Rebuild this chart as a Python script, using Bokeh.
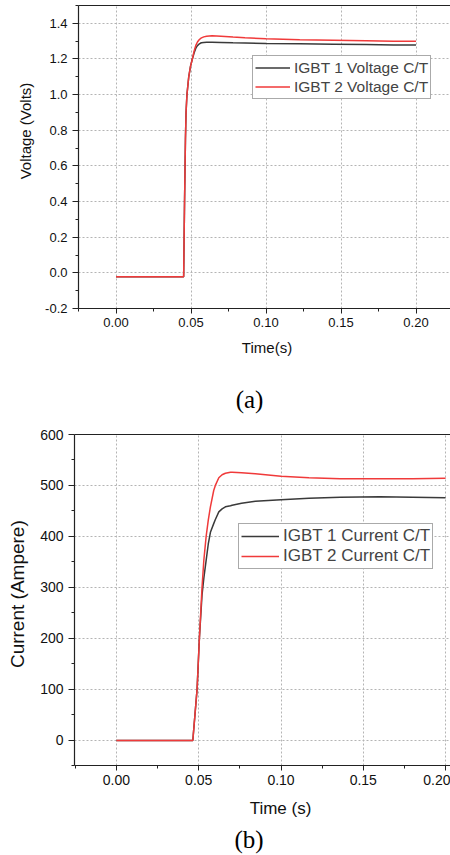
from math import pi
from bokeh.plotting import figure
from bokeh.models import LinearAxis, FixedTicker, NumeralTickFormatter
from bokeh.core.properties import value
from bokeh.layouts import column, row
from bokeh.embed import file_html
from bokeh.resources import INLINE

# ---------------- data (a): voltage ----------------
t_v = [0.0, 0.0451, 0.0457, 0.0463, 0.0467, 0.0473, 0.0485, 0.0497, 0.0509, 0.0521,
       0.0533, 0.0543, 0.0553, 0.0562, 0.057, 0.0585, 0.0604, 0.064, 0.07, 0.078,
       0.086, 0.1, 0.1225, 0.145, 0.1667, 0.185, 0.2]
v_igbt1 = [-0.022, -0.022, 0.4, 0.75, 0.9, 1.0, 1.1, 1.16, 1.2, 1.235,
           1.262, 1.275, 1.283, 1.288, 1.291, 1.293, 1.294, 1.294, 1.293, 1.291,
           1.290, 1.287, 1.285, 1.283, 1.281, 1.279, 1.278]
v_igbt2 = [-0.022, -0.022, 0.4, 0.75, 0.9, 1.0, 1.1, 1.16, 1.2, 1.245,
           1.278, 1.295, 1.306, 1.314, 1.318, 1.324, 1.328, 1.330, 1.328, 1.323,
           1.319, 1.313, 1.308, 1.305, 1.302, 1.300, 1.299]

# ---------------- data (b): current ----------------
t_i = [0.0, 0.0464, 0.049, 0.0504, 0.052, 0.0531, 0.0545, 0.0558, 0.0571, 0.0591,
       0.0601, 0.0622, 0.0642, 0.0662, 0.0693, 0.0703, 0.076, 0.0844, 0.1, 0.117,
       0.136, 0.16, 0.18, 0.2]
i_igbt1 = [-1, -1, 100, 200, 285, 318, 353, 385, 408, 425,
           433, 448, 454, 458, 460, 461, 465, 469, 472, 475,
           477, 478, 477, 476]
i_igbt2 = [-1, -1, 100, 200, 300, 353, 400, 432, 458, 490,
           500, 515, 521, 524, 526, 526, 525, 523, 518, 515,
           513, 513, 513, 514]

x_ticks = [0.0, 0.05, 0.10, 0.15, 0.20]
x_minor = [-0.025, 0.025, 0.075, 0.125, 0.175, 0.225]
v_ticks = [-0.2, 0.0, 0.2, 0.4, 0.6, 0.8, 1.0, 1.2, 1.4]
v_minor = [-0.1, 0.1, 0.3, 0.5, 0.7, 0.9, 1.1, 1.3, 1.5]
i_ticks = [0, 100, 200, 300, 400, 500, 600]
i_minor = [-50, 50, 150, 250, 350, 450, 550]

BLACK = "#3a3a3a"
RED = "#f03a3a"
SANS = "Liberation Sans"
SERIF = "Liberation Serif"


def panel(width, height, xr, yr, border_top, yticks, yminor, yfmt, tick_fs):
    p = figure(width=width, height=height, x_range=xr, y_range=yr,
               output_backend="svg", toolbar_location=None,
               min_border_left=38, min_border_right=0,
               min_border_top=border_top, min_border_bottom=30)
    p.outline_line_color = None
    p.background_fill_color = "white"
    p.border_fill_color = "white"
    p.xaxis.ticker = FixedTicker(ticks=x_ticks, minor_ticks=x_minor)
    p.yaxis.ticker = FixedTicker(ticks=yticks, minor_ticks=yminor)
    p.xaxis.formatter = NumeralTickFormatter(format="0.00")
    p.yaxis.formatter = NumeralTickFormatter(format=yfmt)
    for ax in (p.xaxis[0], p.yaxis[0]):
        ax.axis_line_color = "#222222"
        ax.axis_line_width = 1.2
        ax.major_tick_line_color = "#222222"
        ax.minor_tick_line_color = "#222222"
        ax.major_tick_in = 0
        ax.minor_tick_in = 0
        ax.major_label_text_font = SANS
        ax.major_label_text_font_size = tick_fs
        ax.major_label_text_color = "#111111"
    p.xaxis.major_tick_out = 5
    p.xaxis.minor_tick_out = 3
    p.xaxis.major_label_standoff = 4
    p.yaxis.major_tick_out = 6
    p.yaxis.minor_tick_out = 3
    p.yaxis.major_label_standoff = 5
    top = LinearAxis(ticker=FixedTicker(ticks=[], minor_ticks=[]),
                     axis_line_color="#222222", axis_line_width=1.2,
                     major_tick_in=0, major_tick_out=0, minor_tick_in=0, minor_tick_out=0,
                     major_label_standoff=0)
    p.add_layout(top, "above")
    p.xgrid.grid_line_color = "#b4b4b4"
    p.ygrid.grid_line_color = "#b4b4b4"
    p.xgrid.grid_line_dash = "2 2"
    p.ygrid.grid_line_dash = "2 2"
    return p


def style_legend(lg, x, y, gw, h, fs):
    lg.location = (x, y)
    lg.margin = 0
    lg.padding = 2
    lg.spacing = 0
    lg.label_standoff = 4
    lg.glyph_width = gw
    lg.glyph_height = h
    lg.label_height = h
    lg.label_text_font = SANS
    lg.label_text_font_size = fs
    lg.border_line_color = "#555555"
    lg.border_line_width = 1
    lg.background_fill_alpha = 1.0


def strip(width, height):
    # blank pixel-space figure used only to hold text (axis titles, captions)
    s = figure(width=width, height=height, x_range=(0, width), y_range=(0, height),
               output_backend="svg", toolbar_location=None,
               x_axis_location=None, y_axis_location=None,
               min_border=0, min_border_left=0, min_border_right=0,
               min_border_top=0, min_border_bottom=0)
    s.grid.visible = False
    s.outline_line_color = None
    s.background_fill_color = "white"
    s.border_fill_color = "white"
    return s


def put_text(s, x, y_from_top, txt, font, size, angle=0.0, color="#111111"):
    s.text(x=[x], y=[s.height - y_from_top], text=[txt], angle=angle,
           text_font=value(font), text_font_size=value(size),
           text_color=color, text_align="center", text_baseline="middle")


# ---------------- (a) ----------------
pa = panel(410, 338, (-0.025, 0.223), (-0.2, 1.5), 5, v_ticks, v_minor, "0.0", "13px")
pa.line(t_v, v_igbt1, line_color=BLACK, line_width=1.5, legend_label="IGBT 1 Voltage C/T")
pa.line(t_v, v_igbt2, line_color=RED, line_width=1.5, legend_label="IGBT 2 Voltage C/T")
style_legend(pa.legend[0], 174, 209, 35, 19, "15.5px")

ya = strip(40, 338)
put_text(ya, 25, 140, "Voltage (Volts)", SANS, "15px", angle=pi / 2)

ca = strip(450, 88)
put_text(ca, 266.5, 9, "Time(s)", SANS, "15px")
put_text(ca, 249, 61, "(a)", SERIF, "25px", color="#000000")

# ---------------- (b) ----------------
pb = panel(414, 369, (-0.0255, 0.203), (-50, 600), 8, i_ticks, i_minor, "0", "14px")
pb.line(t_i, i_igbt1, line_color=BLACK, line_width=1.5, legend_label="IGBT 1 Current C/T")
pb.line(t_i, i_igbt2, line_color=RED, line_width=1.5, legend_label="IGBT 2 Current C/T")
style_legend(pb.legend[0], 164, 196, 38, 20, "17px")

yb = strip(36, 369)
put_text(yb, 17, 178, "Current (Ampere)", SANS, "19px", angle=pi / 2)

cb = strip(450, 60)
put_text(cb, 280, 13, "Time (s)", SANS, "17px")
put_text(cb, 248.5, 44, "(b)", SERIF, "25px", color="#000000")

layout = column(row(ya, pa, spacing=0), ca, row(yb, pb, spacing=0), cb, spacing=0)
open("out.html", "w").write(file_html(layout, INLINE))
